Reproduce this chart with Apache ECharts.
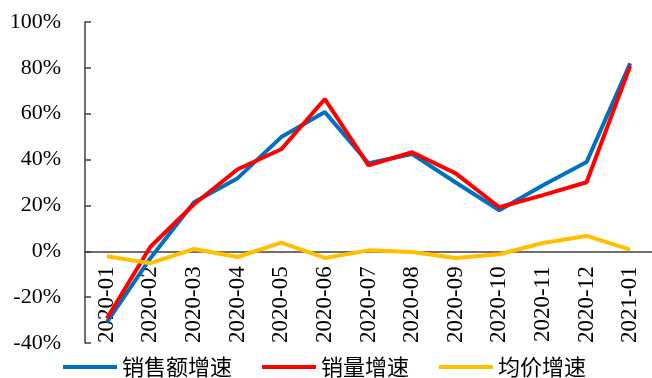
<!DOCTYPE html>
<html><head><meta charset="utf-8">
<script src="https://cdn.jsdelivr.net/npm/echarts@6/dist/echarts.min.js"></script>
<style>html,body{margin:0;padding:0;background:#fff}#c{width:652px;height:378px}</style>
</head><body><div id="c"></div>
<script>
const categories = ['2020-01','2020-02','2020-03','2020-04','2020-05','2020-06','2020-07','2020-08','2020-09','2020-10','2020-11','2020-12','2021-01'];
const salesAmountGrowth = [-31, -3, 21.4, 31.9, 49.8, 60.7, 38.4, 42.4, 30, 17.9, 28.8, 38.9, 82];
const volumeGrowth = [-29.3, 2, 20.5, 35.8, 44.5, 66.4, 37.5, 43.2, 34, 19.2, 24.5, 30.1, 80.8];
const priceGrowth = [-2.2, -5.2, 1, -2.5, 3.8, -2.9, 0.4, -0.3, -2.9, -1.3, 3.6, 6.7, 0.7];
const seriesNames = ['销售额增速', '销量增速', '均价增速'];
const yTicks = {min: -40, max: 100, interval: 20};

const gridTop = 22, gridBottom = 35, chartH = 378;
const plotH = chartH - gridTop - gridBottom;
// distance from bottom of plot to the zero line, from the y scale
const zeroOffset = (0 - yTicks.min) / (yTicks.max - yTicks.min) * plotH;

const chart = echarts.init(document.getElementById('c'));
const axisColor = '#404040';
const mk = (name, data, color) => ({
  name, type: 'line', data, symbol: 'none', smooth: false, z: 5,
  lineStyle: {color, width: 4}, itemStyle: {color}
});
chart.setOption({
  animation: false,
  grid: {left: 85, right: 0, top: gridTop, bottom: gridBottom, containLabel: false, outerBoundsMode: 'none'},
  legend: {
    left: 63, top: 355, padding: 0, icon: 'rect', itemWidth: 54, itemHeight: 4, itemGap: 30,
    textStyle: {fontFamily: 'Noto Sans CJK SC', fontSize: 22, lineHeight: 24, color: '#000'},
    data: seriesNames
  },
  xAxis: {
    type: 'category', data: categories, boundaryGap: true, position: 'bottom', offset: -zeroOffset,
    axisLine: {onZero: false, lineStyle: {color: axisColor, width: 1.5}},
    axisTick: {inside: true, length: 7, lineStyle: {color: axisColor, width: 1.5}},
    axisLabel: {rotate: 90, margin: 15, interval: 0, fontFamily: 'Liberation Serif', fontSize: 23, color: '#000'}
  },
  yAxis: {
    type: 'value', min: yTicks.min, max: yTicks.max, interval: yTicks.interval,
    splitLine: {show: false},
    axisLine: {show: true, lineStyle: {color: axisColor, width: 1.5}},
    axisTick: {show: true, inside: true, length: 6, lineStyle: {color: axisColor, width: 1.5}},
    axisLabel: {formatter: '{value}%', margin: 24, fontFamily: 'Liberation Serif', fontSize: 22, color: '#000'}
  },
  series: [
    mk(seriesNames[0], salesAmountGrowth, '#0070C0'),
    mk(seriesNames[1], volumeGrowth, '#FF0000'),
    mk(seriesNames[2], priceGrowth, '#FFC000')
  ]
});
</script></body></html>
